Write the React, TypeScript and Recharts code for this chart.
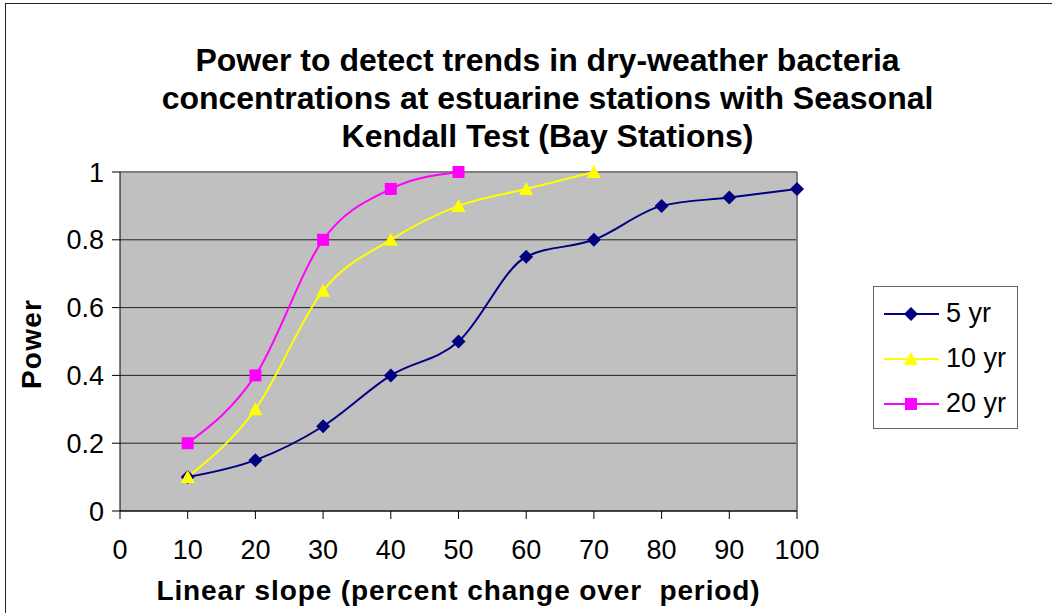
import {
  LineChart,
  Line,
  XAxis,
  YAxis,
  CartesianGrid,
  ReferenceLine,
} from "recharts";

const slopes5 = [10, 20, 30, 40, 50, 60, 70, 80, 90, 100];
const power5 = [0.1, 0.15, 0.25, 0.4, 0.5, 0.75, 0.8, 0.9, 0.925, 0.95];
const slopes10 = [10, 20, 30, 40, 50, 60, 70];
const power10 = [0.1, 0.3, 0.65, 0.8, 0.9, 0.95, 1.0];
const slopes20 = [10, 20, 30, 40, 50];
const power20 = [0.2, 0.4, 0.8, 0.95, 1.0];

const xTicks = [0, 10, 20, 30, 40, 50, 60, 70, 80, 90, 100];
const yTicks = [0, 0.2, 0.4, 0.6, 0.8, 1];

const toPoints = (xs: number[], ys: number[]) =>
  xs.map((x, i) => ({ x, y: ys[i] }));

const series = [
  { name: "5 yr", color: "#000080", shape: "diamond", data: toPoints(slopes5, power5) },
  { name: "10 yr", color: "#FFFF00", shape: "triangle", data: toPoints(slopes10, power10) },
  { name: "20 yr", color: "#FF00FF", shape: "square", data: toPoints(slopes20, power20) },
];

const FONT = '"Liberation Sans", Arial, sans-serif';

function Marker({ cx, cy, shape, color }: any) {
  if (cx == null || cy == null) return null;
  if (shape === "diamond") {
    const r = 7;
    return (
      <polygon
        points={`${cx},${cy - r} ${cx + r},${cy} ${cx},${cy + r} ${cx - r},${cy}`}
        fill={color}
      />
    );
  }
  if (shape === "triangle") {
    return (
      <polygon
        points={`${cx},${cy - 7} ${cx + 7},${cy + 6} ${cx - 7},${cy + 6}`}
        fill={color}
      />
    );
  }
  return <rect x={cx - 6} y={cy - 6} width={12} height={12} fill={color} />;
}

function LegendBox() {
  return (
    <div
      style={{
        position: "absolute",
        left: 873,
        top: 286,
        width: 143,
        padding: "4px 0 2px",
        border: "1.5px solid #666",
        background: "#fff",
        fontSize: 27,
      }}
    >
      {series.map((s) => (
        <div key={s.name} style={{ display: "flex", alignItems: "center", height: 45 }}>
          <svg width={72} height={20}>
            <line x1={10} y1={10} x2={65} y2={10} stroke={s.color} strokeWidth={2} />
            <Marker cx={37} cy={10} shape={s.shape} color={s.color} />
          </svg>
          <span>{s.name}</span>
        </div>
      ))}
    </div>
  );
}

export default function App() {
  return (
    <div
      style={{
        position: "absolute",
        left: 0,
        top: 0,
        width: 1052,
        height: 613,
        background: "#fff",
        overflow: "hidden",
        fontFamily: FONT,
      }}
    >
      <div
        style={{
          position: "absolute",
          left: 5,
          top: 3,
          width: 1100,
          height: 700,
          borderLeft: "1.5px solid #222",
          borderTop: "1.5px solid #222",
        }}
      />
      <div
        style={{
          position: "absolute",
          left: 0,
          top: 41,
          width: 1095,
          textAlign: "center",
          fontWeight: "bold",
          fontSize: 32,
          lineHeight: "38px",
        }}
      >
        Power to detect trends in dry-weather bacteria
        <br />
        concentrations at estuarine stations with Seasonal
        <br />
        Kendall Test (Bay Stations)
      </div>
      <LineChart
        width={1052}
        height={613}
        margin={{ top: 172, right: 255, bottom: 0, left: 0 }}
        style={{ position: "absolute", left: 0, top: 0 }}
      >
        <CartesianGrid
          vertical={false}
          horizontal
          fill="#C0C0C0"
          stroke="#222"
          strokeWidth={1}
        />
        <ReferenceLine x={100} stroke="#808080" strokeWidth={2} />
        <ReferenceLine y={1} stroke="#808080" strokeWidth={2} />
        <XAxis
          type="number"
          dataKey="x"
          domain={[0, 100]}
          ticks={xTicks}
          allowDuplicatedCategory={false}
          height={102}
          stroke="#000"
          tickSize={8}
          tickMargin={21}
          tick={{ fill: "#000", fontSize: 27, fontFamily: FONT }}
          label={{
            value: "Linear slope (percent change over\u00a0\u00a0period)",
            position: "insideBottom",
            offset: 13,
            fill: "#000",
            fontSize: 28,
            fontWeight: "bold",
            fontFamily: FONT,
            letterSpacing: 0.9,
          }}
        />
        <YAxis
          type="number"
          dataKey="y"
          domain={[0, 1]}
          ticks={yTicks}
          width={120}
          stroke="#000"
          tickSize={8}
          tickMargin={8}
          tick={{ fill: "#000", fontSize: 27, fontFamily: FONT }}
        />
        {series.map((s) => (
          <Line
            key={s.name}
            data={s.data}
            dataKey="y"
            name={s.name}
            type="monotone"
            stroke={s.color}
            strokeWidth={2}
            dot={(p: any) => (
              <Marker key={`${s.name}-${p.index}`} cx={p.cx} cy={p.cy} shape={s.shape} color={s.color} />
            )}
            activeDot={false}
            isAnimationActive={false}
          />
        ))}
      </LineChart>
      <div
        style={{
          position: "absolute",
          left: 32,
          top: 344,
          transform: "translate(-50%, -50%) rotate(-90deg)",
          fontWeight: "bold",
          fontSize: 28,
          letterSpacing: 1.2,
          whiteSpace: "nowrap",
        }}
      >
        Power
      </div>
      <LegendBox />
    </div>
  );
}
